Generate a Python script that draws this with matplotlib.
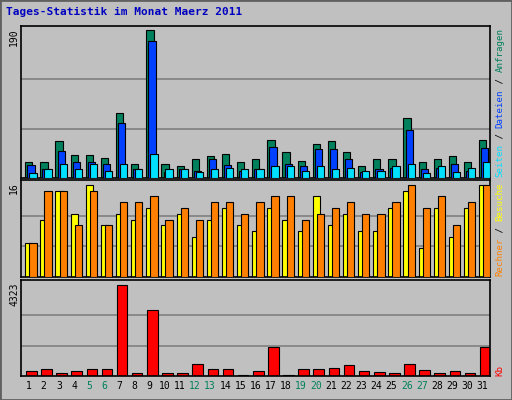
import matplotlib
matplotlib.use("Agg")
import matplotlib.pyplot as plt
from matplotlib.patches import Rectangle
import numpy as np

days = list(range(1, 32))
weekends = [5, 6, 12, 13, 19, 20, 26, 27]
hits = [20, 20, 48, 29, 30, 26, 84, 18, 190, 18, 16, 24, 28, 31, 21, 24, 49, 34, 22, 44, 47, 33, 15, 24, 24, 77, 21, 25, 28, 21, 49]
files = [17, 12, 35, 21, 21, 18, 71, 11, 176, 8, 11, 9, 24, 17, 9, 12, 40, 18, 15, 37, 37, 24, 8, 12, 13, 62, 11, 13, 18, 9, 39]
pages = [7, 11, 18, 12, 18, 9, 18, 12, 31, 11, 12, 8, 12, 13, 12, 12, 15, 15, 9, 16, 12, 13, 9, 9, 15, 18, 6, 15, 8, 13, 21]
visits = [6, 10, 15, 11, 16, 9, 11, 10, 12, 9, 11, 7, 10, 12, 9, 8, 12, 10, 8, 14, 9, 11, 8, 8, 12, 15, 5, 12, 7, 12, 16]
sites = [6, 15, 15, 9, 15, 9, 13, 13, 14, 10, 12, 10, 13, 13, 11, 13, 14, 14, 10, 11, 12, 13, 11, 11, 13, 16, 12, 14, 9, 13, 16]
kbytes = [252, 347, 158, 252, 347, 347, 4323, 158, 3140, 158, 158, 584, 347, 347, 47, 252, 1389, 47, 347, 347, 395, 537, 252, 205, 158, 584, 300, 158, 252, 158, 1389]

BG = "#C0C0C0"
GREEN = "#00805C"
BLUE = "#0040FF"
CYAN = "#00E0FF"
YEL = "#FFFF00"
ORA = "#FF8000"
RED = "#FF0000"
W, H = 512, 400

fig = plt.figure(figsize=(5.12, 4.0), dpi=100, facecolor=BG)
fig.patches.append(Rectangle((0, 0), 1, 1, transform=fig.transFigure, fill=False, ec="#606060", lw=2))

def ax_at(top, bottom):
    return fig.add_axes([21 / W, 1 - bottom / H, 469 / W, (bottom - top) / H])

def style(ax, ymax, vmax):
    ax.set_facecolor(BG)
    ax.set_xlim(0.5, 31.5)
    ax.set_ylim(0, ymax)
    ax.set_xticks([])
    ax.set_yticks([])
    for f in (1 / 3, 2 / 3):
        ax.axhline(vmax * f, color="#808080", lw=1.2, zorder=0)
    for s in ax.spines.values():
        s.set_color("black"); s.set_linewidth(1.2)

x = np.array(days, dtype=float)
ekw = dict(edgecolor="black", linewidth=0.8, align="edge")

ax1 = ax_at(26, 178)
style(ax1, 190 * 152 / 148, 190)
ax1.bar(x - 0.5 + 0.28, hits, 0.48, color=GREEN, zorder=2, **ekw)
ax1.bar(x - 0.5 + 0.42, files, 0.48, color=BLUE, zorder=3, **ekw)
ax1.bar(x - 0.5 + 0.55, pages, 0.48, color=CYAN, zorder=4, **ekw)

ax2 = ax_at(180, 277)
style(ax2, 16 * 97 / 92, 16)
ax2.bar(x - 0.5 + 0.28, visits, 0.48, color=YEL, zorder=2, **ekw)
ax2.bar(x - 0.5 + 0.55, sites, 0.48, color=ORA, zorder=3, **ekw)

ax3 = ax_at(280, 376)
style(ax3, 4323 * 96 / 91.4, 4323)
ax3.bar(x - 0.5 + 0.33, kbytes, 0.7, color=RED, zorder=2, **ekw)

mono = dict(family="DejaVu Sans Mono", fontsize=7)
for d in days:
    fig.text((21 + 15.13 * (d - 0.5)) / W, 1 - 386 / H, str(d), ha="center", va="center",
             color=GREEN if d in weekends else "black", **mono)

fig.text(6 / W, 1 - 12 / H, "Tages-Statistik im Monat Maerz 2011", color="#0000C0",
         fontweight="bold", ha="left", va="center", family="DejaVu Sans Mono", fontsize=8)

for lab, top in (("190", 28), ("16", 182), ("4323", 282)):
    fig.text(14 / W, 1 - top / H, lab, rotation=90, ha="center", va="top", **mono)

# right-hand rotated legend, bottom-to-top
segs = [("Rechner", ORA), (" / ", "black"), ("Besuche", YEL), (" ", "black"), ("Seiten", CYAN),
        (" / ", "black"), ("Dateien", BLUE), (" / ", "black"), ("Anfragen", GREEN)]
step = 5.5
pos = 276
for txt, col in segs:
    fig.text(500 / W, 1 - pos / H, txt, rotation=90, ha="center", va="bottom", color=col,
             family="DejaVu Sans Mono", fontsize=6.6)
    pos -= step * len(txt)
fig.text(500 / W, 1 - 376 / H, "Kb", rotation=90, ha="center", va="bottom", color=RED,
         family="DejaVu Sans Mono", fontsize=6.6)

fig.savefig("out.png", dpi=100, facecolor=BG)
